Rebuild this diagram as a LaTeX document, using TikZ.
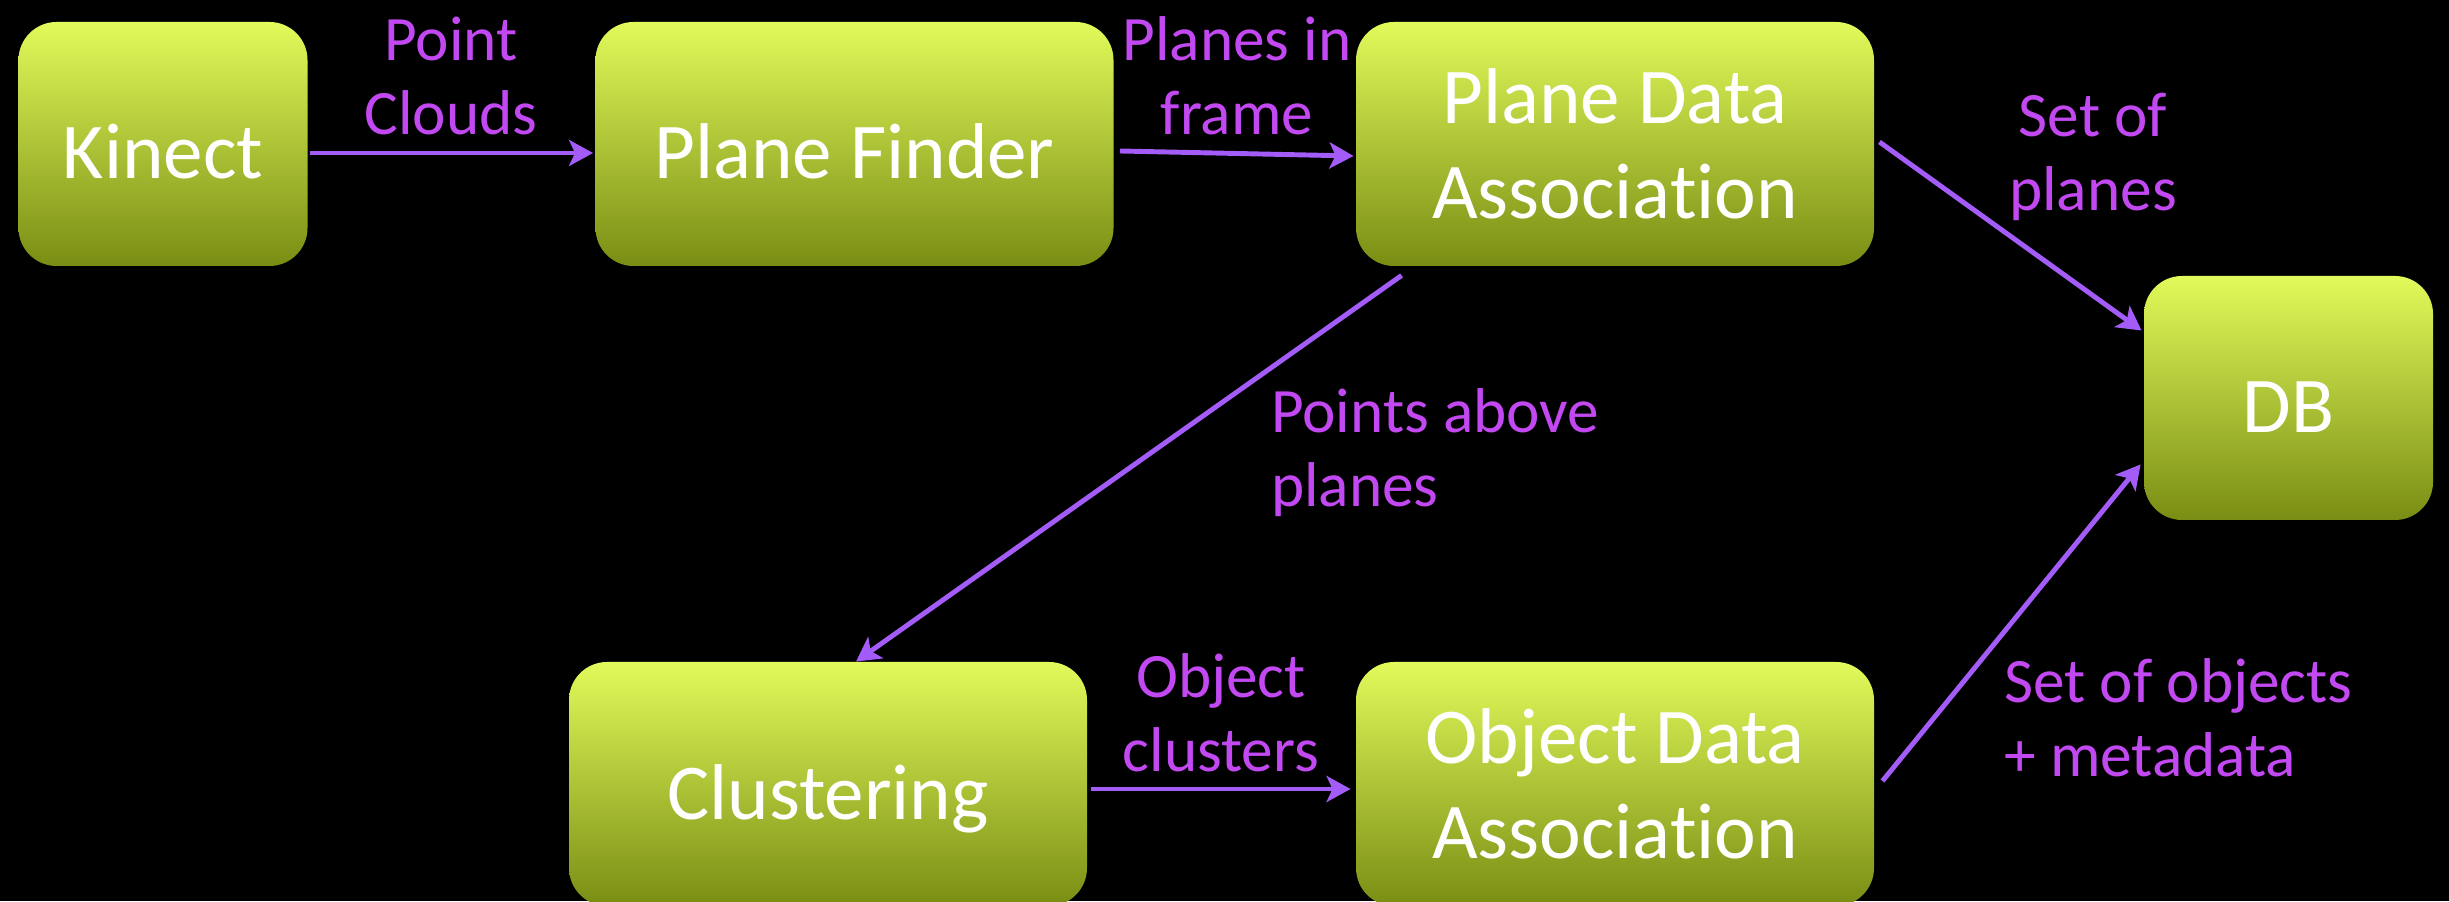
\documentclass[tikz,border=0pt]{standalone}
\usepackage{fontspec}
\setmainfont{Carlito}[Ligatures={NoCommon,NoRare,NoContextual}, Contextuals=NoAlternate]
\usetikzlibrary{arrows.meta, positioning, calc}
\definecolor{ctop}{HTML}{E2FA5A}
\definecolor{cbot}{HTML}{7A8D14}
\definecolor{carrow}{HTML}{A35CF7}
\definecolor{clabel}{HTML}{C248F2}
\tikzset{
  every picture/.style={line width=1.4pt},
  box/.style={rounded corners=0.38cm, top color=ctop, bottom color=cbot, text=white, align=center,
              minimum width=#1, minimum height=2.44cm, inner sep=0pt, font=\fontsize{22.5}{27}\selectfont},
  box/.default=5.18cm,
  oneline/.style={text height=0.85cm, text depth=0.15cm},
  arrow/.style={-{Stealth[length=2.4mm, width=2.6mm, inset=0.6mm]}, draw=carrow, line width=1.4pt},
  lbl/.style={text=clabel, align=center, font=\fontsize{18}{21}\selectfont},
}

\begin{document}
\begin{tikzpicture}
  \fill[black] (0,0) rectangle (24.49,9.01);
  \useasboundingbox (0,0) rectangle (24.49,9.01);
  % pipeline stages
  \node[box=2.89cm, oneline] (kinect) at (1.63,7.57) {Kinect};
  \node[box, oneline] (finder) at (8.545,7.57) {Plane Finder};
  \node[box] (pda) at (16.15,7.57) {Plane Data\\Association};
  \node[box=2.89cm, oneline] (db) at (22.885,5.03) {DB};
  \node[box, oneline] (clust) at (8.28,1.17) {Clustering};
  \node[box] (oda) at (16.15,1.17) {Object Data\\Association};
  % data flow
  \draw[arrow] ($(kinect.east)+(0,-0.09)$) -- ($(finder.west)+(0,-0.09)$);
  \draw[arrow] ($(finder.east)+(0.04,-0.07)$) -- ($(pda.west)+(0,-0.12)$);
  \draw[arrow] ($(pda.east)+(0.03,0.02)$) -- ($(db.north west)+(0,-0.57)$);
  \draw[arrow] ($(pda.south west)+(0.48,-0.07)$) -- ($(clust.north)+(0.28,-0.02)$);
  \draw[arrow] ($(clust.east)+(0.02,-0.05)$) -- ($(oda.west)+(-0.03,-0.05)$);
  \draw[arrow] ($(oda.east)+(0.06,0.03)$) -- ($(db.south west)+(-0.01,0.58)$);
  % what travels along each arrow
  \node[lbl] (lpc) at (4.51,8.25) {Point\\Clouds};
  \node[lbl] (lpf) at (12.37,8.25) {Planes in\\frame};
  \node[lbl] (lsp) at (20.93,7.44) {Set of\\planes};
  \node[lbl, anchor=west, align=left] (lpa) at (12.57,4.48) {Points above\\planes};
  \node[lbl] (loc) at (12.21,1.88) {Object\\clusters};
  \node[lbl, anchor=west, align=left] (lso) at (19.90,1.83) {Set of objects\\+ metadata};
\end{tikzpicture}
\end{document}
